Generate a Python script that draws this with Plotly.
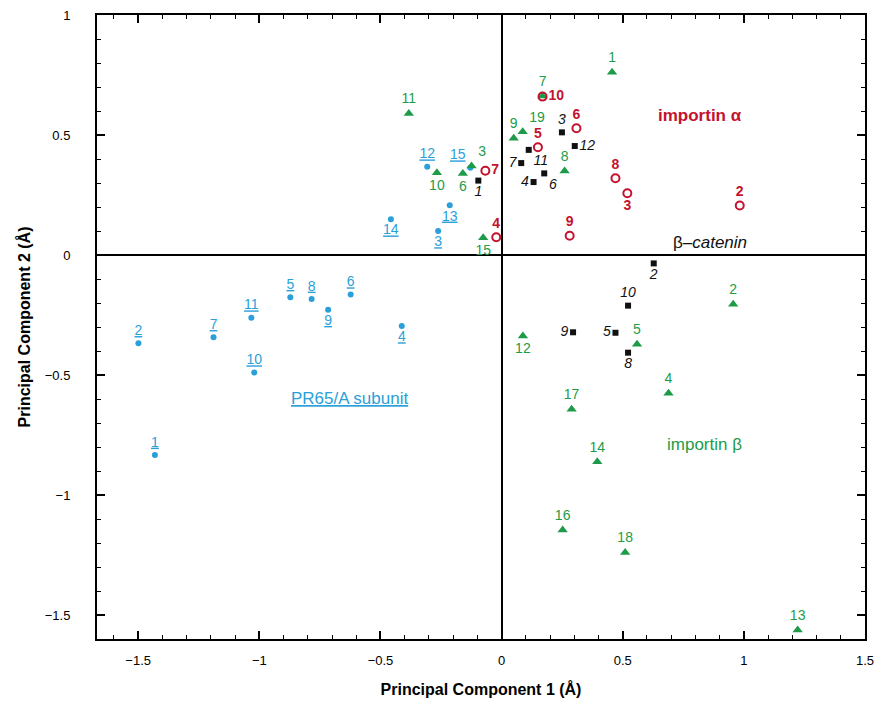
import plotly.graph_objects as go

# PR65/A subunit (blue dots)
pr65_labels = ["1", "2", "3", "4", "5", "6", "7", "8", "9", "10", "11", "12", "13", "14", "15"]
pr65_x = [-1.431, -1.499, -0.262, -0.412, -0.872, -0.623, -1.189, -0.784, -0.716, -1.021, -1.033, -0.307, -0.214, -0.457, -0.129]
pr65_y = [-0.833, -0.368, 0.100, -0.296, -0.176, -0.165, -0.343, -0.183, -0.228, -0.490, -0.261, 0.368, 0.207, 0.149, 0.364]
pr65_pos = ["top center", "top center", "bottom center", "bottom center", "top center", "top center", "top center",
            "top center", "bottom center", "top center", "top center", "top center", "bottom center", "bottom center", "top left"]

# importin beta (green triangles)
impb_labels = ["1", "2", "3", "4", "5", "6", "7", "8", "9", "10", "11", "12", "13", "14", "15", "16", "17", "18", "19"]
impb_x = [0.456, 0.956, -0.124, 0.689, 0.559, -0.160, 0.169, 0.260, 0.050, -0.267, -0.383, 0.088, 1.222, 0.395, -0.076, 0.252, 0.289, 0.510, 0.087]
impb_y = [0.761, -0.205, 0.371, -0.576, -0.372, 0.340, 0.663, 0.350, 0.486, 0.343, 0.590, -0.338, -1.563, -0.861, 0.072, -1.146, -0.643, -1.240, 0.514]
impb_pos = ["top center", "top center", "top right", "top center", "top center", "bottom center", "top center", "top center",
            "top center", "bottom center", "top center", "bottom center", "top center", "top center", "bottom center",
            "top center", "top center", "top center", "top right"]

# beta-catenin (black squares)
bcat_labels = ["1", "2", "3", "4", "5", "6", "7", "8", "9", "10", "11", "12"]
bcat_x = [-0.096, 0.628, 0.249, 0.132, 0.470, 0.176, 0.081, 0.522, 0.295, 0.522, 0.112, 0.302]
bcat_y = [0.310, -0.035, 0.511, 0.304, -0.324, 0.340, 0.383, -0.407, -0.322, -0.211, 0.438, 0.454]
bcat_pos = ["bottom center", "bottom center", "top center", "middle left", "middle left", "bottom right", "middle left",
            "bottom center", "middle left", "top center", "bottom right", "middle right"]

# importin alpha (red open circles)
impa_labels = ["2", "3", "4", "5", "6", "7", "8", "9", "10"]
impa_x = [0.983, 0.519, -0.022, 0.150, 0.309, -0.067, 0.470, 0.281, 0.169]
impa_y = [0.206, 0.257, 0.074, 0.449, 0.528, 0.351, 0.320, 0.080, 0.660]
impa_pos = ["top center", "bottom center", "top center", "top center", "top center", "middle right", "top center",
            "top center", "middle right"]

BLUE = "#2b9fd9"
GREEN = "#1e9b48"
RED = "#c4122f"
BLACK = "#111111"
FONT = "Liberation Sans, Arial, sans-serif"

fig = go.Figure()

fig.add_trace(go.Scatter(
    x=pr65_x, y=pr65_y, mode="markers+text",
    text=["<u>" + t + "</u>" for t in pr65_labels], textposition=pr65_pos,
    marker=dict(symbol="circle", size=6, color=BLUE),
    textfont=dict(color=BLUE, size=14, family=FONT),
))
fig.add_trace(go.Scatter(
    x=impb_x, y=impb_y, mode="markers+text",
    text=impb_labels, textposition=impb_pos,
    marker=dict(symbol="triangle-up", size=9, color=GREEN),
    textfont=dict(color=GREEN, size=14, family=FONT),
))
fig.add_trace(go.Scatter(
    x=bcat_x, y=bcat_y, mode="markers+text",
    text=["<i>" + t + "</i>" for t in bcat_labels], textposition=bcat_pos,
    marker=dict(symbol="square", size=6, color=BLACK),
    textfont=dict(color=BLACK, size=14, family=FONT),
))
fig.add_trace(go.Scatter(
    x=impa_x, y=impa_y, mode="markers+text",
    text=["<b>" + t + "</b>" for t in impa_labels], textposition=impa_pos,
    marker=dict(symbol="circle-open", size=8, color=RED, line=dict(width=2, color=RED)),
    textfont=dict(color=RED, size=14, family=FONT),
))

group_text = ["<b>importin α</b>", "β–<i>catenin</i>", "<u>PR65/A subunit</u>", "importin β"]
group_x = [0.818, 0.86, -0.628, 0.839]
group_y = [0.583, 0.054, -0.596, -0.788]
group_col = [RED, BLACK, BLUE, GREEN]
for t, gx, gy, c in zip(group_text, group_x, group_y, group_col):
    fig.add_annotation(x=gx, y=gy, text=t, showarrow=False,
                       font=dict(color=c, size=17, family=FONT))

axis_common = dict(
    showgrid=False, zeroline=True, zerolinecolor="black", zerolinewidth=2,
    showline=True, linecolor="black", linewidth=2, mirror="allticks",
    ticks="inside", ticklen=8, tickwidth=1.5, tickcolor="black",
    dtick=0.5, tickfont=dict(size=13, color="black", family=FONT),
    minor=dict(ticks="inside", ticklen=4, dtick=0.1, tickcolor="black", tickwidth=1),
    automargin=False, ticklabeloverflow="allow",
)

fig.update_layout(
    width=875, height=704,
    margin=dict(l=97, r=10, t=15, b=65),
    paper_bgcolor="white", plot_bgcolor="white",
    showlegend=False,
    font=dict(family=FONT, color="black"),
    xaxis=dict(range=[-1.67, 1.5], tick0=0, ticklabelstandoff=8,
               title=dict(text="<b>Principal Component 1 (Å)</b>", font=dict(size=16), standoff=17),
               **axis_common),
    yaxis=dict(range=[-1.6, 1.0], tick0=0, ticklabelstandoff=22,
               title=dict(text="<b>Principal Component 2 (Å)</b>", font=dict(size=16), standoff=10),
               **axis_common),
)

fig.write_html("out.html", config={"displayModeBar": False},
               post_script="document.body.style.margin='0';")
